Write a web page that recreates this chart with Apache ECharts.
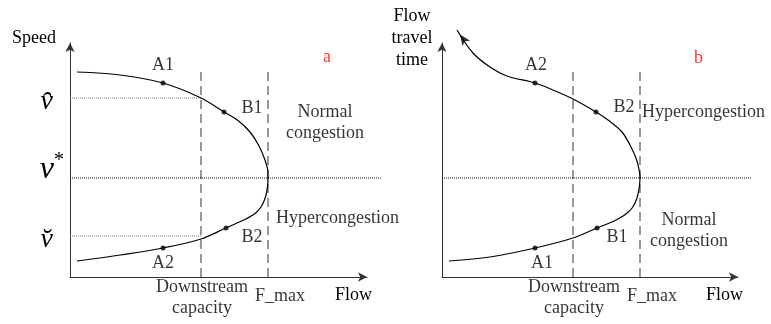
<!DOCTYPE html>
<html><head><meta charset="utf-8">
<script src="https://cdn.jsdelivr.net/npm/echarts@6/dist/echarts.min.js"></script>
<style>html,body{margin:0;padding:0;background:#fff}#c{width:771px;height:324px}</style>
</head><body><div id="c"></div>
<script>
// ---- data (flow on x, speed / travel time on y; axis units) ----
const curveA = [[7,205],[50,202],[93,194],[131,179],[154,165],[168,156.5],[180,145],[189,131],[195,117],[197.8,106],[198,99],[197.6,91],[195.5,80],[191,70],[185,63.5],[176,58],[166,53.5],[156,49],[131,38],[93,29],[50,22],[7,16]];
const curveB = [[15,247],[31,224],[48,210],[65,201],[93,194],[111,187],[131,178],[154,165],[166,157],[180,145],[189,130],[194.7,117],[197.3,106],[198,99],[197.3,90],[195,79],[190.5,69.5],[184,63],[175,57.5],[165,53],[155,49],[131,39],[93,29],[48,20],[7,16]];
const pointNamesA = ['A1','B1','B2','A2'];
const pointsA = [[93,194],[154,165],[156,49],[93,29]];
const pointNamesB = ['A2','B2','B1','A1'];
const pointsB = [[93,194],[154,165],[155,49],[93,29]];
const capacityFlow = 131;
const maxFlow = 198;
const dashTop = 208;
const criticalValue = 99;
const speedHat = 179;
const speedBreve = 41;
const refLineEnd = [311, 310];
const xTickLabels = ['Downstream\ncapacity', 'F_max'];
const yTickValuesA = [speedHat, criticalValue, speedBreve];
const yTickLabelsA = ['v\u0311', 'v*', 'v\u0306'];
const panelTitles = ['a', 'b'];
const regionTextA = ['Normal\ncongestion', 'Hypercongestion'];
const regionPosA = [[255,154],[206,58.3]];
const regionTextB = ['Hypercongestion', 'Normal\ncongestion'];
const regionPosB = [[200,165],[247,46]];
const titlePos = [[257,219.5],[256.5,219]];
const xLabelPos = [[132,-20.5],[210,-19.5]];

// ---- styles ----
const SERIF = "'Liberation Serif','Times New Roman',serif";
const labelOffsetsA = [[0,-18],[28,-4],[26,9],[0,15]];
const labelOffsetsB = [[1,-18],[28,-5],[20,9],[7,15]];

function baseText(extra){ return Object.assign({fontFamily:SERIF,fontSize:18,color:'#000'}, extra||{}); }

function xAxisCfg(idx, max){
  return {
    gridIndex: idx, type:'value', min:0, max:max,
    name:'Flow', nameLocation:'end', nameGap:5,
    nameTextStyle: baseText({align:'right', verticalAlign:'top', padding:[9,0,0,0]}),
    axisLine:{show:true, lineStyle:{color:'#333', width:1}, symbol:['none','arrow'], symbolSize:[7,9]},
    axisTick:{show:false},
    splitLine:{show:false},
    axisLabel:{show:false}
  };
}
function hiddenAxis(idx, max){
  return {gridIndex: idx, type:'value', min:0, max:max, show:false, splitLine:{show:false}};
}

function yAxisCfg(idx, name, nameStyle, withTicks){
  const cfg = {
    gridIndex: idx, type:'value', min:0, max:234,
    name:name, nameLocation:'end', nameGap:5,
    nameTextStyle: nameStyle,
    axisLine:{show:true, lineStyle:{color:'#333', width:1}, symbol:['none','arrow'], symbolSize:[7,9]},
    axisTick:{show:false},
    splitLine:{show:false},
    axisLabel:{show:false}
  };
  if (withTicks) {
    cfg.axisLabel = {
      show:true, customValues: yTickValuesA, margin:6, hideOverlap:false,
      formatter: function(v){
        const i = yTickValuesA.indexOf(v);
        if (i === 1) return '{v|v}{s|*}';
        return '{h|' + yTickLabelsA[i] + '}';
      },
      rich:{
        h:{fontFamily:SERIF, fontStyle:'italic', fontSize:28, color:'#000', padding:[8,11,0,0]},
        v:{fontFamily:SERIF, fontStyle:'italic', fontSize:32, color:'#000', padding:[0,0,16,0]},
        s:{fontFamily:SERIF, fontSize:20, color:'#000', padding:[0,0,34,0]}
      }
    };
  }
  return cfg;
}

function panelSeries(idx, curve, pts, names, offsets, regionText, regionPos, withSpeedRefs){
  const ax = {xAxisIndex:idx, yAxisIndex:idx};
  const axWide = {xAxisIndex:idx + 2, yAxisIndex:idx + 2};
  const s = [];
  [capacityFlow, maxFlow].forEach(v => {
    s.push(Object.assign({type:'line', data:[[v,0],[v,dashTop]], symbol:'none', silent:true, clip:false,
      lineStyle:{color:'#555', width:1.2, type:[9,5]}}, ax));
  });
  s.push(Object.assign({type:'line', data:[[0,criticalValue],[refLineEnd[idx],criticalValue]], symbol:'none', silent:true, clip:false,
    lineStyle:{color:'#111', width:1, type:[1,1]}}, axWide));
  if (withSpeedRefs) {
    [speedHat, speedBreve].forEach(v => {
      s.push(Object.assign({type:'line', data:[[0,v],[capacityFlow,v]], symbol:'none', silent:true, clip:false,
        lineStyle:{color:'#777', width:1, type:[1,1]}}, ax));
    });
  }
  s.push(Object.assign({type:'line', data:curve, smooth:0.35, symbol:'none', silent:true, clip:false,
    lineStyle:{color:'#000', width:1.2}}, ax));
  s.push(Object.assign({type:'scatter', symbol:'circle', symbolSize:5, silent:true, clip:false,
    itemStyle:{color:'#000'},
    data: pts.map((p,i) => ({value:p, name:names[i],
      label:{show:true, position:'inside', offset:offsets[i], formatter:'{b}', color:'#000'}})),
    label: baseText({show:true, align:'center', verticalAlign:'middle'})}, ax));
  s.push(Object.assign({type:'scatter', symbolSize:0, silent:true, clip:false,
    data: regionPos.map((p,i) => ({value:p, name:regionText[i],
      label:{color:'#000', align: regionText[i].indexOf('\n') >= 0 ? 'center' : 'left'}})),
    label: baseText({show:true, position:'inside', formatter:'{b}', lineHeight:21, verticalAlign:'middle'})}, ax));
  s.push(Object.assign({type:'scatter', symbolSize:0, silent:true, clip:false,
    data: xLabelPos.map((p,i) => ({value:p, name:xTickLabels[i]})),
    label: baseText({show:true, position:'inside', formatter:'{b}', lineHeight:21, align:'center', verticalAlign:'middle', color:'#000'})}, ax));
  s.push(Object.assign({type:'scatter', symbolSize:0, silent:true, clip:false,
    data:[{value:titlePos[idx], name:panelTitles[idx]}],
    label: baseText({show:true, position:'inside', formatter:'{b}', color:'#ff0000'})}, ax));
  return s;
}

const chart = echarts.init(document.getElementById('c'), null, {renderer:'canvas'});
const series = [].concat(
  panelSeries(0, curveA, pointsA, pointNamesA, labelOffsetsA, regionTextA, regionPosA, true),
  panelSeries(1, curveB, pointsB, pointNamesB, labelOffsetsB, regionTextB, regionPosB, false)
);
series.push({type:'scatter', xAxisIndex:1, yAxisIndex:1, symbol:'arrow', symbolSize:[7,11], symbolRotate:35,
  symbolOffset:[3,4.5], silent:true, clip:false, itemStyle:{color:'#000'}, data:[curveB[0]]});

chart.setOption({
  animation:false,
  backgroundColor:'#fff',
  grid:[
    {left:70, top:43, width:297, height:234},
    {left:442, top:43, width:296, height:234},
    {left:70, top:43, width:311, height:234},
    {left:442, top:43, width:310, height:234}
  ],
  xAxis:[xAxisCfg(0,297), xAxisCfg(1,296), hiddenAxis(2, refLineEnd[0]), hiddenAxis(3, refLineEnd[1])],
  yAxis:[
    yAxisCfg(0, 'Speed', baseText({align:'right', verticalAlign:'middle', padding:[0,14,0,0]}), true),
    yAxisCfg(1, 'Flow\ntravel\ntime', baseText({align:'center', verticalAlign:'middle', lineHeight:22, padding:[0,60,0,0]}), false),
    hiddenAxis(2, 234), hiddenAxis(3, 234)
  ],
  series: series
});
</script>
</body></html>
